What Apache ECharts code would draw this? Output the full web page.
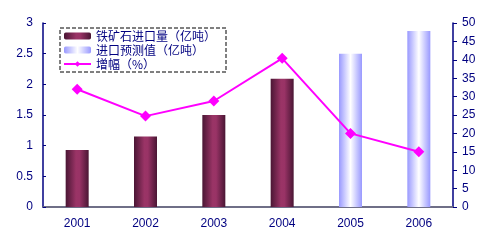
<!DOCTYPE html>
<html><head><meta charset="utf-8">
<script src="https://cdn.jsdelivr.net/npm/echarts@6/dist/echarts.min.js"></script>
<style>html,body{margin:0;padding:0;background:#fff}#c{width:492px;height:246px}</style>
</head><body><div id="c"></div>
<script>
var years = ['2001','2002','2003','2004','2005','2006'];
var importActual = [0.93, 1.15, 1.50, 2.09, '-', '-'];
var importForecast = ['-', '-', '-', '-', 2.50, 2.87];
var growthPct = [32, 24.7, 28.8, 40.4, 20, 15];
var leftTicks = [0, 3, 0.5];
var rightTicks = [0, 50, 5];
var names = ['铁矿石进口量（亿吨）', '进口预测值（亿吨）', '增幅（%）'];

var navy = '#000080';
var font = 'Liberation Sans, Arial, sans-serif';
var chart = echarts.init(document.getElementById('c'));
var maroon = new echarts.graphic.LinearGradient(0,0,1,0,[
  {offset:0,color:'#4a1634'},{offset:0.45,color:'#9a3466'},{offset:0.6,color:'#993366'},{offset:1,color:'#4a1634'}]);
var blue = new echarts.graphic.LinearGradient(0,0,1,0,[
  {offset:0,color:'#9999ff'},{offset:0.5,color:'#ffffff'},{offset:1,color:'#9999ff'}]);
chart.setOption({
  animation:false,
  textStyle:{fontFamily:font},
  grid:{left:43,right:39,top:23,bottom:39},
  legend:{
    orient:'vertical', left:60, top:28, padding:[2,10,2,3],
    borderColor:'#000', borderWidth:1, borderType:'dashed',
    itemWidth:27, itemHeight:7, itemGap:2,
    textStyle:{color:navy,fontSize:12,lineHeight:12,fontFamily:'Noto Sans CJK SC'},
    data:names
  },
  xAxis:[{
    type:'category', data:years,
    axisLine:{lineStyle:{color:navy,width:1.5}},
    axisTick:{inside:true,length:4,lineStyle:{color:navy}},
    axisLabel:{color:navy,fontSize:12,margin:11}
  },{
    type:'category', data:years, position:'top',
    axisLine:{lineStyle:{color:'#808080',width:1.5}},
    axisTick:{show:false}, axisLabel:{show:false}
  }],
  yAxis:[{
    type:'value', min:leftTicks[0], max:leftTicks[1], interval:leftTicks[2],
    axisLine:{show:true,lineStyle:{color:navy,width:1.5}},
    axisTick:{show:true,inside:true,length:3,lineStyle:{color:navy}},
    axisLabel:{color:navy,fontSize:12,margin:10},
    splitLine:{show:false}
  },{
    type:'value', min:rightTicks[0], max:rightTicks[1], interval:rightTicks[2],
    axisLine:{show:true,lineStyle:{color:navy,width:1.5}},
    axisTick:{show:true,length:4,lineStyle:{color:navy}},
    axisLabel:{color:navy,fontSize:12,margin:9},
    splitLine:{show:false}
  }],
  series:[
    {name:names[0],type:'bar',stack:'b',data:importActual,barWidth:23,itemStyle:{color:maroon}},
    {name:names[1],type:'bar',stack:'b',data:importForecast,barWidth:23,itemStyle:{color:blue}},
    {name:names[2],type:'line',yAxisIndex:1,data:growthPct,symbol:'diamond',symbolSize:11,
     lineStyle:{color:'#ff00ff',width:2},itemStyle:{color:'#ff00ff'}}
  ]
});
</script></body></html>
